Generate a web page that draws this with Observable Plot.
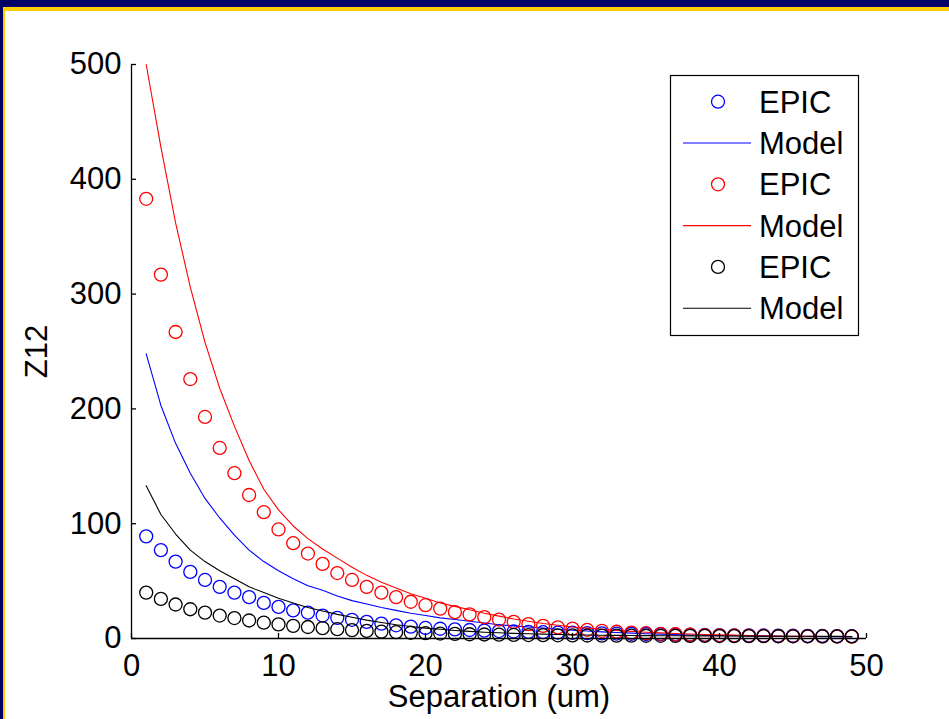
<!DOCTYPE html>
<html>
<head>
<meta charset="utf-8">
<script src="https://cdn.jsdelivr.net/npm/d3@7"></script>
<script src="https://cdn.jsdelivr.net/npm/@observablehq/plot@0.6"></script>
<style>
  html, body { margin: 0; padding: 0; }
  body { width: 949px; height: 719px; background: #000066; position: relative; overflow: hidden; font-family: "Liberation Sans", Arial, sans-serif; }
  #panel { position: absolute; left: 3px; top: 7px; right: 0; bottom: 0; background: #fff; border-top: 4px solid #ffcc00; border-left: 2px solid #ffcc00; }
  #chart { position: absolute; left: 0; top: 0; }
  #legend { position: absolute; left: 0; top: 0; }
</style>
</head>
<body>
<div id="panel"></div>
<div id="chart"></div>
<div id="legend"></div>
<script>
// Separation between the two conductors (um)
const separation = [1,2,3,4,5,6,7,8,9,10,11,12,13,14,15,16,17,18,19,20,21,22,23,24,25,26,27,28,29,30,31,32,33,34,35,36,37,38,39,40,41,42,43,44,45,46,47,48,49];

// Z12 for three configurations: EPIC simulation and analytic model
const blueEpic  = [89,77,67,58,51,45,40,36,31,27.5,24.5,22.5,20,18,16.3,14.5,13,11.5,10.3,9.2,8.5,7.9,7.4,6.9,6.5,6.1,5.8,5.5,5.2,5.0,4.7,4.5,4.3,4.1,3.9,3.7,3.5,3.3,3.1,3.0,2.8,2.7,2.6,2.5,2.4,2.3,2.2,2.1,2.0];
const blueModel = [248,203,170,144,122,105,90,77,67,59,52,46,42,37,33,30,27,24.5,22,20,18,16.5,15,13.5,12,11,10,9,8,7.2,6.5,5.8,5.2,4.7,4.2,3.8,3.4,3.1,2.8,2.6,2.4,2.2,2.0,1.9,1.8,1.7,1.6,1.5,1.4];
const redEpic   = [383,317,267,226,193,166,144,125,110,95,83,74,65,57,51,45,40,36,32,29,26,23,21,18.6,16.5,14.5,12.5,11,9.7,8.6,7.6,6.7,5.9,5.2,4.6,4.1,3.7,3.3,3.0,2.8,2.6,2.4,2.2,2.1,2.0,1.9,1.8,1.7,1.6];
const redModel  = [500,428,362,306,258,218,185,155,130,112,98,87,78,70,62,55,49,44,39,35,31,28,25,22,19.5,17,15,13,11.5,10,9,8,7,6.2,5.5,4.9,4.4,3.9,3.5,3.2,2.9,2.6,2.4,2.2,2.0,1.9,1.8,1.7,1.6];
const blackEpic = [40,34.5,29.6,25.5,22.5,20,17.8,15.7,13.8,12.3,11,10,9,8.1,7.3,6.6,6.0,5.5,5.0,4.6,4.3,4.0,3.7,3.5,3.3,3.1,3.0,2.9,2.8,2.7,2.6,2.55,2.5,2.45,2.4,2.35,2.3,2.25,2.2,2.15,2.1,2.05,2.0,1.95,1.9,1.9,1.85,1.85,1.8];
const blackModel= [133,108,91,77,67,59,52,45,40,35,31,27,24,21,18.5,16,14,12,10.5,9,8,7,6.2,5.5,5,4.5,4.1,3.8,3.5,3.2,3.0,2.8,2.7,2.6,2.5,2.4,2.35,2.3,2.25,2.2,2.15,2.1,2.05,2.0,1.95,1.9,1.85,1.85,1.8];

const xTicks = [0,10,20,30,40,50];
const yTicks = [0,100,200,300,400,500];

// Drawing order and styling of each series
const series = [
  {name: "EPIC",  kind: "dot",  color: "#0000ff", values: blueEpic},
  {name: "Model", kind: "line", color: "#0000ff", values: blueModel},
  {name: "EPIC",  kind: "dot",  color: "#ff0000", values: redEpic},
  {name: "Model", kind: "line", color: "#ff0000", values: redModel},
  {name: "EPIC",  kind: "dot",  color: "#000000", values: blackEpic},
  {name: "Model", kind: "line", color: "#000000", values: blackModel}
];

const font = "'Liberation Sans', Arial, sans-serif";
const fs = 31;
const W = 949, H = 719;

const marks = [];
for (const s of series) {
  const rows = separation.map((sep, i) => ({sep, z: s.values[i]}));
  if (s.kind === "dot") {
    marks.push(Plot.dot(rows, {x: "sep", y: "z", r: 6.5, stroke: s.color, strokeWidth: 1.3, fill: "none"}));
  } else {
    marks.push(Plot.line(rows, {x: "sep", y: "z", stroke: s.color, strokeWidth: 1.1}));
  }
}

const chart = Plot.plot({
  width: W,
  height: H,
  marginLeft: 131,
  marginRight: 83,
  marginTop: 64,
  marginBottom: 81,
  style: {background: "transparent", fontFamily: font, fontSize: fs + "px", color: "#000", overflow: "visible"},
  x: {domain: [0, 50]},
  y: {domain: [0, 500]},
  marks: [
    ...marks,
    // axis lines and inward ticks
    Plot.ruleY([0], {stroke: "#000", strokeWidth: 1.3}),
    Plot.ruleX([0], {stroke: "#000", strokeWidth: 1.3}),
    Plot.axisX({ticks: xTicks, tickSize: -5, fill: "none", stroke: "#000", strokeWidth: 1.3, label: null}),
    Plot.axisY({ticks: yTicks, tickSize: -5, fill: "none", stroke: "#000", strokeWidth: 1.3, label: null}),
    Plot.axisX({ticks: xTicks, tickSize: 0, tickPadding: 15, fill: "#000", fontSize: fs, label: null}),
    Plot.axisY({ticks: yTicks, tickSize: 0, tickPadding: 10, fill: "#000", fontSize: fs, label: null}),
    Plot.text(["Separation (um)"], {frameAnchor: "bottom", dy: 59, lineAnchor: "middle", fontSize: fs, fill: "#000"}),
    Plot.text(["Z12"], {frameAnchor: "left", dx: -94, rotate: -90, lineAnchor: "middle", textAnchor: "middle", fontSize: fs, fill: "#000"})
  ]
});
document.getElementById("chart").appendChild(chart);

// Legend box listing each series in drawing order
const legend = d3.select("#legend").append("svg")
  .attr("width", W).attr("height", H)
  .style("font-family", font).style("font-size", fs + "px");
const box = {x: 670, y: 75, w: 188, h: 260};
legend.append("rect")
  .attr("x", box.x + 0.5).attr("y", box.y + 0.5)
  .attr("width", box.w).attr("height", box.h)
  .attr("fill", "#fff").attr("stroke", "#000").attr("stroke-width", 1.2);
const rowH = 41.3;
series.forEach((s, i) => {
  const cy = box.y + 26.7 + i * rowH;
  const g = legend.append("g");
  if (s.kind === "dot") {
    g.append("circle").attr("cx", 718).attr("cy", cy).attr("r", 6.5)
      .attr("fill", "none").attr("stroke", s.color).attr("stroke-width", 1.3);
  } else {
    g.append("line").attr("x1", 683).attr("x2", 751).attr("y1", cy).attr("y2", cy)
      .attr("stroke", s.color).attr("stroke-width", 1.1);
  }
  g.append("text").attr("x", 759).attr("y", cy).attr("dy", "0.36em").attr("fill", "#000").text(s.name);
});
</script>
</body>
</html>
